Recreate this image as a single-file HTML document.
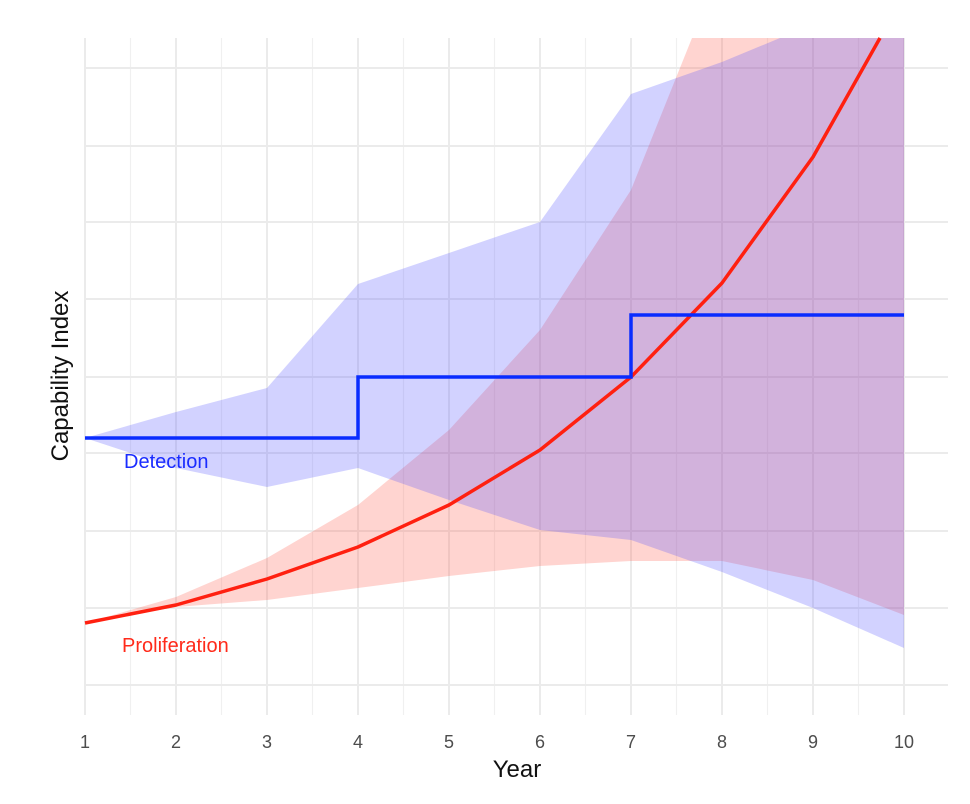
<!DOCTYPE html>
<html><head><meta charset="utf-8"><style>
html,body{margin:0;padding:0;background:#fff;}
svg{display:block;font-family:"Liberation Sans",sans-serif;}
</style></head><body>
<svg width="970" height="804" viewBox="0 0 970 804">
<g stroke="#f0f0f0" stroke-width="1.2">
<line x1="130.5" y1="38" x2="130.5" y2="715"/><line x1="221.5" y1="38" x2="221.5" y2="715"/><line x1="312.5" y1="38" x2="312.5" y2="715"/><line x1="403.5" y1="38" x2="403.5" y2="715"/><line x1="494.5" y1="38" x2="494.5" y2="715"/><line x1="585.5" y1="38" x2="585.5" y2="715"/><line x1="676.5" y1="38" x2="676.5" y2="715"/><line x1="767.5" y1="38" x2="767.5" y2="715"/><line x1="858.5" y1="38" x2="858.5" y2="715"/>
</g>
<g stroke="#ebebeb" stroke-width="2">
<line x1="85" y1="38" x2="85" y2="715"/><line x1="176" y1="38" x2="176" y2="715"/><line x1="267" y1="38" x2="267" y2="715"/><line x1="358" y1="38" x2="358" y2="715"/><line x1="449" y1="38" x2="449" y2="715"/><line x1="540" y1="38" x2="540" y2="715"/><line x1="631" y1="38" x2="631" y2="715"/><line x1="722" y1="38" x2="722" y2="715"/><line x1="813" y1="38" x2="813" y2="715"/><line x1="904" y1="38" x2="904" y2="715"/>
<line x1="85" y1="68" x2="948" y2="68"/><line x1="85" y1="146" x2="948" y2="146"/><line x1="85" y1="222" x2="948" y2="222"/><line x1="85" y1="299" x2="948" y2="299"/><line x1="85" y1="377" x2="948" y2="377"/><line x1="85" y1="453" x2="948" y2="453"/><line x1="85" y1="531" x2="948" y2="531"/><line x1="85" y1="608" x2="948" y2="608"/><line x1="85" y1="685" x2="948" y2="685"/>
</g>
<polygon fill="#ff6050" fill-opacity="0.27" points="85,623 176,597 267,558 358,505 449,430 540,330 631,190 692,38 904,38 904,615 813,580 722,561 631,561 540,566 449,576 358,588 267,600 176,607"/>
<polygon fill="#4d4dff" fill-opacity="0.25" points="85,438 176,412 267,388 358,284 449,253 540,222 631,94 722,62 780,38 904,38 904,648 813,608 722,572 631,540 540,530 449,500 358,468 267,487 176,468"/>
<polyline fill="none" stroke="#ff2010" stroke-width="3.5" stroke-linejoin="round" points="85,623 176,605 267,579 358,547 449,505 540,450 631,377 722,283 813,157 880,38"/>
<polyline fill="none" stroke="#0a2cff" stroke-width="3.5" points="85,438 358,438 358,377 631,377 631,315 904,315"/>
<text x="124" y="468" font-size="20" fill="#1a2cff">Detection</text>
<text x="122" y="652" font-size="20" fill="#ff2a1a">Proliferation</text>
<g font-size="18" fill="#4d4d4d" text-anchor="middle">
<text x="85" y="748">1</text><text x="176" y="748">2</text><text x="267" y="748">3</text><text x="358" y="748">4</text><text x="449" y="748">5</text><text x="540" y="748">6</text><text x="631" y="748">7</text><text x="722" y="748">8</text><text x="813" y="748">9</text><text x="904" y="748">10</text>
</g>
<text x="517" y="777" font-size="24" text-anchor="middle" fill="#111">Year</text>
<text transform="translate(68,376) rotate(-90)" font-size="24" text-anchor="middle" fill="#111">Capability Index</text>
</svg>
</body></html>
